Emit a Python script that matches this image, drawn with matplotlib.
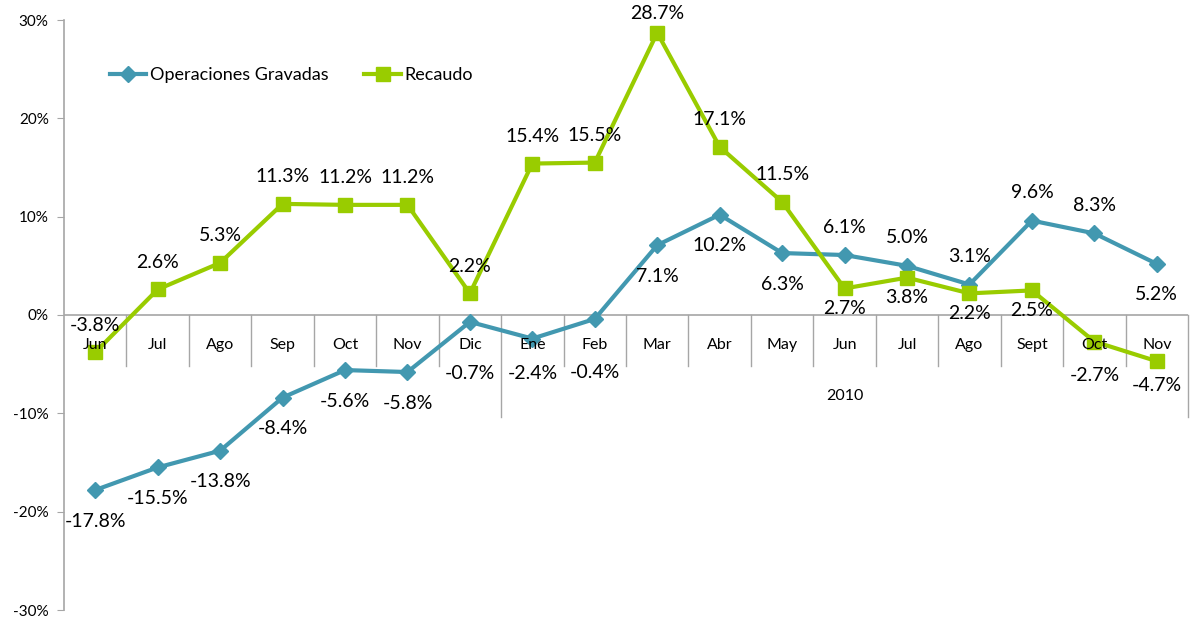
import matplotlib
matplotlib.use("Agg")
import matplotlib.pyplot as plt
from matplotlib.ticker import FuncFormatter

plt.rcParams['font.family'] = ['Lato', 'DejaVu Sans']

months = ["Jun", "Jul", "Ago", "Sep", "Oct", "Nov", "Dic", "Ene", "Feb", "Mar",
          "Abr", "May", "Jun", "Jul", "Ago", "Sept", "Oct", "Nov"]
year_label = "2010"
year_start = 7  # first category of 2010 group

operaciones = [-17.8, -15.5, -13.8, -8.4, -5.6, -5.8, -0.7, -2.4, -0.4, 7.1,
               10.2, 6.3, 6.1, 5.0, 3.1, 9.6, 8.3, 5.2]
recaudo = [-3.8, 2.6, 5.3, 11.3, 11.2, 11.2, 2.2, 15.4, 15.5, 28.7,
           17.1, 11.5, 2.7, 3.8, 2.2, 2.5, -2.7, -4.7]

# label placement: +1 above, -1 below
op_pos = [-1, -1, -1, -1, -1, -1, -1, -1, -1, -1, -1, -1, 1, 1, 1, 1, 1, -1]
re_pos = [1, 1, 1, 1, 1, 1, 1, 1, 1, 1, 1, 1, -1, -1, -1, -1, -1, -1]

BLUE = "#4298B0"
GREEN = "#99CC00"
GRAY = "#A6A6A6"

fig = plt.figure(figsize=(11.9, 6.24), dpi=100)
ax = fig.add_axes([64/1190, 1-610/624, 1124/1190, 590/624])

x = list(range(len(months)))
ax.plot(x, operaciones, color=BLUE, lw=3, marker="D", ms=8.5, label="Operaciones Gravadas", zorder=3)
ax.plot(x, recaudo, color=GREEN, lw=3, marker="s", ms=10, label="Recaudo", zorder=3)

ax.set_xlim(-0.5, len(months) - 0.5)
ax.set_ylim(-30, 30)
ax.set_yticks(range(-30, 31, 10))
ax.yaxis.set_major_formatter(FuncFormatter(lambda v, p: f"{v:.0f}%"))
ax.tick_params(axis='y', labelsize=11, length=5, color=GRAY, direction='out', pad=6)
ax.set_xticks([])

for s in ["top", "right", "bottom"]:
    ax.spines[s].set_visible(False)
ax.spines["left"].set_color(GRAY)
ax.spines["left"].set_linewidth(1.2)

# category axis at zero
ax.axhline(0, color=GRAY, lw=1.2, zorder=1)
for i in range(1, len(months) + 1):
    b = i - 0.5
    bottom = -10.4 if (i == year_start or i == len(months)) else -5.2
    ax.plot([b, b], [0, bottom], color=GRAY, lw=1.0, zorder=1, clip_on=False)
for i, m in enumerate(months):
    ax.text(i, -3.05, m, ha="center", va="center", fontsize=11.5, zorder=5)
ax.text((year_start + len(months) - 1) / 2, -8.2, year_label, ha="center", va="center", fontsize=11.5)

# data labels
op_off = {6: -52, 7: -35, 8: -54}
for i, (v, p) in enumerate(zip(operaciones, op_pos)):
    off = op_off.get(i, 28 if p > 0 else -31)
    ax.annotate(f"{v:.1f}%", (i, v), xytext=(0, off), textcoords="offset pixels",
                ha="center", va="center", fontsize=14, zorder=6, annotation_clip=False)
re_off = {9: 19, 16: -34, 17: -24}
for i, (v, p) in enumerate(zip(recaudo, re_pos)):
    off = re_off.get(i, 27 if p > 0 else -20)
    ax.annotate(f"{v:.1f}%", (i, v), xytext=(0, off), textcoords="offset pixels",
                ha="center", va="center", fontsize=14, zorder=6, annotation_clip=False)

ax.legend(loc="center left", bbox_to_anchor=((110-64)/1124, (610-75)/590), ncol=2,
          frameon=False, fontsize=13, handlelength=2.0, handletextpad=0.2,
          columnspacing=2.0, borderpad=0, borderaxespad=0)

fig.savefig("out.png", dpi=100)
